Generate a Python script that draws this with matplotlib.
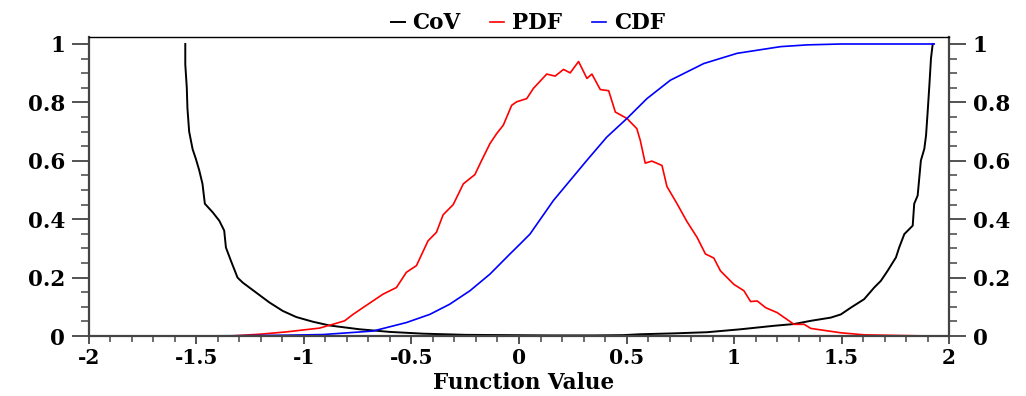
import numpy as np
import matplotlib
matplotlib.use("Agg")
import matplotlib.pyplot as plt
from matplotlib.ticker import FixedLocator, FixedFormatter, MultipleLocator

# --- data ---
cov_x = [-1.552, -1.552, -1.545, -1.542, -1.534, -1.518, -1.503, -1.487, -1.472,
         -1.461, -1.425, -1.394, -1.371, -1.363, -1.340, -1.309, -1.285, -1.223,
         -1.161, -1.099, -1.036, -0.959, -0.881, -0.741, -0.60, -0.446, -0.25,
         -0.05, 0.15, 0.35, 0.485, 0.564, 0.719, 0.875, 1.030, 1.186, 1.279,
         1.357, 1.45, 1.497, 1.543, 1.605, 1.652, 1.683, 1.714, 1.753, 1.768,
         1.792, 1.831, 1.838, 1.854, 1.869, 1.885, 1.893, 1.900, 1.908, 1.916,
         1.924]
cov_y = [1.00, 0.93, 0.85, 0.78, 0.70, 0.64, 0.607, 0.567, 0.521,
         0.453, 0.424, 0.395, 0.361, 0.303, 0.258, 0.200, 0.183, 0.149,
         0.115, 0.086, 0.065, 0.049, 0.036, 0.023, 0.014, 0.008, 0.004,
         0.003, 0.002, 0.002, 0.003, 0.006, 0.009, 0.013, 0.023, 0.035, 0.041,
         0.052, 0.063, 0.074, 0.097, 0.126, 0.166, 0.189, 0.223, 0.269, 0.303,
         0.349, 0.378, 0.453, 0.481, 0.601, 0.641, 0.687, 0.762, 0.853, 0.951,
         1.00]

pdf_x = [-1.347, -1.207, -1.083, -0.928, -0.866, -0.811, -0.772, -0.726, -0.633,
         -0.570, -0.524, -0.477, -0.423, -0.384, -0.353, -0.306, -0.259, -0.205,
         -0.174, -0.135, -0.104, -0.073, -0.034, -0.011, 0.036, 0.067, 0.129,
         0.168, 0.207, 0.238, 0.277, 0.316, 0.339, 0.378, 0.417, 0.448, 0.502,
         0.548, 0.564, 0.587, 0.618, 0.665, 0.688, 0.735, 0.781, 0.828, 0.867,
         0.906, 0.937, 0.999, 1.046, 1.077, 1.108, 1.147, 1.201, 1.279, 1.326,
         1.357, 1.403, 1.497, 1.605, 1.75, 1.916]
pdf_y = [0.0, 0.006, 0.014, 0.027, 0.040, 0.052, 0.074, 0.097, 0.143,
         0.166, 0.218, 0.241, 0.326, 0.355, 0.415, 0.45, 0.521, 0.553,
         0.601, 0.659, 0.693, 0.722, 0.790, 0.802, 0.813, 0.848, 0.897,
         0.890, 0.913, 0.901, 0.940, 0.882, 0.897, 0.844, 0.840, 0.767, 0.745,
         0.710, 0.670, 0.592, 0.599, 0.584, 0.512, 0.453, 0.392, 0.338, 0.281,
         0.267, 0.223, 0.177, 0.155, 0.118, 0.120, 0.097, 0.080, 0.040, 0.040,
         0.026, 0.021, 0.011, 0.004, 0.002, 0.0]

cdf_x = [-1.557, -1.3, -1.068, -0.912, -0.679, -0.524, -0.415, -0.322, -0.228,
         -0.135, -0.042, 0.005, 0.051, 0.160, 0.315, 0.408, 0.502, 0.595,
         0.704, 0.859, 1.014, 1.217, 1.341, 1.497, 1.931]
cdf_y = [0.0, 0.001, 0.003, 0.005, 0.017, 0.046, 0.074, 0.109, 0.155,
         0.212, 0.281, 0.315, 0.349, 0.464, 0.601, 0.681, 0.745, 0.813,
         0.876, 0.933, 0.968, 0.991, 0.997, 1.0, 1.0]

x_ticks = [-2, -1.5, -1, -0.5, 0, 0.5, 1, 1.5, 2]
x_labels = ['-2', '-1.5', '-1', '-0.5', '0', '0.5', '1', '1.5', '2']
y_ticks = [0, 0.2, 0.4, 0.6, 0.8, 1]
y_labels = ['0', '0.2', '0.4', '0.6', '0.8', '1']

font = 'DejaVu Serif'

fig = plt.figure(figsize=(10.26, 3.96), dpi=100)
ax = fig.add_axes([0.0867, 0.1515, 0.8383, 0.7551])

ax.plot(cov_x, cov_y, color='black', lw=1.4, label='CoV')
ax.plot(pdf_x, pdf_y, color='#ff0000', lw=1.2, label='PDF')
ax.plot(cdf_x, cdf_y, color='#0000ff', lw=1.2, label='CDF')

ax.set_xlim(-2, 2)
ax.set_ylim(0, 1.024)

ax.xaxis.set_major_locator(FixedLocator(x_ticks))
ax.xaxis.set_major_formatter(FixedFormatter(x_labels))
ax.xaxis.set_minor_locator(MultipleLocator(0.1))
ax.yaxis.set_major_locator(FixedLocator(y_ticks))
ax.yaxis.set_major_formatter(FixedFormatter(y_labels))
ax.yaxis.set_minor_locator(MultipleLocator(0.05))

ax.tick_params(axis='y', which='major', direction='out', length=12, width=1.3,
               color='#444444', left=True, right=True, labelleft=True,
               labelright=True, pad=5)
ax.tick_params(axis='y', which='minor', direction='out', length=6, width=1.1,
               color='#444444', left=True, right=True)
ax.tick_params(axis='x', which='major', direction='out', length=6, width=1.3,
               color='#444444', top=False, pad=2.5)
ax.tick_params(axis='x', which='minor', direction='out', length=4, width=1.1,
               color='#444444', top=False)

for lab in ax.get_yticklabels():
    lab.set_fontfamily(font)
    lab.set_fontweight('bold')
    lab.set_fontsize(15.5)
for lab in ax.get_xticklabels():
    lab.set_fontfamily(font)
    lab.set_fontweight('bold')
    lab.set_fontsize(14.5)
for t in ax.yaxis.get_major_ticks():
    t.label2.set_fontfamily(font)
    t.label2.set_fontweight('bold')
    t.label2.set_fontsize(15.5)

for side in ['left', 'bottom', 'right']:
    ax.spines[side].set_color('#444444')
    ax.spines[side].set_linewidth(1.6)
ax.spines['top'].set_color('black')
ax.spines['top'].set_linewidth(1.0)

ax.set_xlabel('Function Value', fontfamily=font, fontweight='bold',
              fontsize=15.5)
ax.xaxis.set_label_coords(0.505, -0.122)

ax.legend(loc='lower center', bbox_to_anchor=(0.51, 0.98), ncol=3,
          frameon=False, handlelength=0.65, handletextpad=0.35,
          columnspacing=1.4, borderaxespad=0,
          prop={'family': font, 'weight': 'bold', 'size': 15.5})

fig.savefig('out.png', dpi=100)
